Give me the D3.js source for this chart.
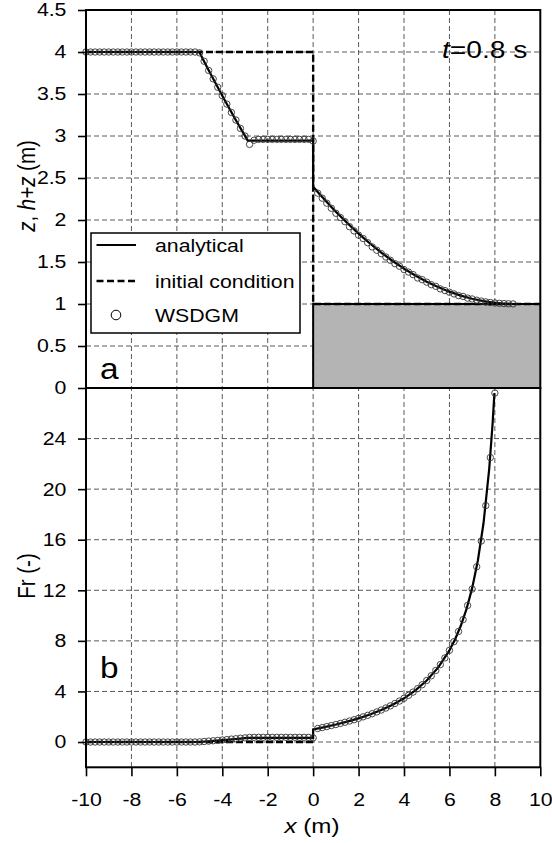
<!DOCTYPE html>
<html>
<head>
<meta charset="utf-8">
<script src="https://cdn.jsdelivr.net/npm/d3@7"></script>
<style>
  body { margin: 0; background: #fff; }
  text { font-family: "Liberation Sans", Arial, Helvetica, sans-serif; fill: #000; }
</style>
</head>
<body>
<svg id="chart" width="552" height="843"></svg>
<script>
// ---- Tick values ----
const xTicks = [-10, -8, -6, -4, -2, 0, 2, 4, 6, 8, 10];
const levelTicks = [0, 0.5, 1, 1.5, 2, 2.5, 3, 3.5, 4, 4.5];
const froudeTicks = [0, 4, 8, 12, 16, 20, 24];

// ---- Bed and initial condition (x, h+z) ----
const bedX = [0, 0, 10];
const bedZ = [0, 1, 1];
const initX = [-10, 0, 0, 10];
const initLevel = [4, 4, 1, 1];
const initFrX = [-10, 0];
const initFr = [0, 0];

// ---- Analytical solution at t = 0.8 s: free-surface level h+z ----
const anaX = [-10, -5.01, -4.8, -4.6, -4.4, -4.2, -4.0, -3.8, -3.6, -3.4, -3.2, -3.0, -2.88,
  0, 0, 0.25, 0.5, 0.75, 1, 1.5, 2, 2.5, 3, 3.5, 4, 4.5, 5, 5.5, 6, 6.5, 7, 7.5, 8, 8.5, 8.88];
const anaLevel = [4, 4, 3.888, 3.784, 3.681, 3.580, 3.480, 3.381, 3.284, 3.188, 3.094, 3.001, 2.946,
  2.944, 2.396, 2.318, 2.243, 2.170, 2.099, 1.964, 1.838, 1.720, 1.612, 1.512, 1.421, 1.340, 1.266,
  1.202, 1.147, 1.100, 1.063, 1.034, 1.014, 1.003, 1.0];

// ---- Analytical solution: Froude number ----
const anaFrX = [-10, -5.01, -4.8, -4.6, -4.4, -4.2, -4.0, -3.8, -3.6, -3.4, -3.2, -3.0, -2.88,
  0, 0, 0.5, 1, 1.5, 2, 2.5, 3, 3.5, 4, 4.5, 5, 5.5, 6, 6.25, 6.5, 6.75, 7, 7.25, 7.5, 7.75, 7.9, 7.98];
const anaFr = [0, 0, 0.029, 0.056, 0.085, 0.114, 0.144, 0.175, 0.207, 0.240, 0.274, 0.309, 0.330,
  0.330, 1.0, 1.179, 1.381, 1.610, 1.872, 2.176, 2.531, 2.952, 3.459, 4.082, 4.866, 5.882, 7.25,
  8.129, 9.193, 10.507, 12.17, 14.34, 17.30, 21.58, 25.18, 27.6];

// ---- WSDGM results (cell positions and values) ----
const cellX = [-10, -9.8, -9.6, -9.4, -9.2, -9, -8.8, -8.6, -8.4, -8.2, -8, -7.8, -7.6, -7.4, -7.2,
  -7, -6.8, -6.6, -6.4, -6.2, -6, -5.8, -5.6, -5.4, -5.2, -5, -4.8, -4.6, -4.4, -4.2, -4, -3.8, -3.6,
  -3.4, -3.2, -3, -2.8, -2.6, -2.4, -2.2, -2, -1.8, -1.6, -1.4, -1.2, -1, -0.8, -0.6, -0.4, -0.2, 0,
  0.2, 0.4, 0.6, 0.8, 1, 1.2, 1.4, 1.6, 1.8, 2, 2.2, 2.4, 2.6, 2.8, 3, 3.2, 3.4, 3.6, 3.8, 4, 4.2,
  4.4, 4.6, 4.8, 5, 5.2, 5.4, 5.6, 5.8, 6, 6.2, 6.4, 6.6, 6.8, 7, 7.2, 7.4, 7.6, 7.8, 8, 8.2, 8.4,
  8.6, 8.8];
const numLevel = [4, 4, 4, 4, 4, 4, 4, 4, 4, 4, 4, 4, 4, 4, 4, 4, 4, 4, 4, 4, 4, 4, 4, 4, 4,
  3.99, 3.89, 3.78, 3.68, 3.58, 3.48, 3.38, 3.28, 3.19, 3.09, 3.00, 2.90,
  2.95, 2.96, 2.96, 2.96, 2.96, 2.96, 2.96, 2.96, 2.96, 2.96, 2.96, 2.96, 2.96,
  2.94,
  2.32, 2.26, 2.20, 2.14, 2.08, 2.03, 1.98, 1.92, 1.87, 1.82, 1.78, 1.73, 1.68, 1.64, 1.60, 1.56,
  1.52, 1.48, 1.45, 1.41, 1.38, 1.35, 1.31, 1.29, 1.26, 1.23, 1.21, 1.18, 1.16, 1.14, 1.12, 1.10,
  1.09, 1.07, 1.06, 1.045, 1.035, 1.025, 1.018, 1.012, 1.008, 1.005, 1.003, 1.001];
const numFr = [0, 0, 0, 0, 0, 0, 0, 0, 0, 0, 0, 0, 0, 0, 0, 0, 0, 0, 0, 0, 0, 0, 0, 0, 0,
  0.01, 0.04, 0.07, 0.10, 0.13, 0.16, 0.19, 0.23, 0.26, 0.30, 0.33, 0.36,
  0.37, 0.37, 0.37, 0.37, 0.37, 0.37, 0.37, 0.37, 0.37, 0.37, 0.37, 0.37, 0.37,
  0.33,
  1.07, 1.14, 1.22, 1.30, 1.38, 1.47, 1.56, 1.66, 1.76, 1.87, 1.99, 2.11, 2.24, 2.38, 2.53, 2.69,
  2.86, 3.05, 3.24, 3.46, 3.69, 3.95, 4.22, 4.53, 4.87, 5.24, 5.66, 6.12, 6.65, 7.25, 7.94, 8.74,
  9.68, 10.8, 12.1, 13.86, 15.9, 18.7, 22.5, 27.6];

const legendLabels = ["analytical", "initial condition", "WSDGM"];

// ---- Layout ----
const svg = d3.select("#chart");
const SX = 1.15;              // horizontal glyph stretch
const L = 86, R = 540.3;
const topY0 = 10, midY = 388, botY1 = 767.3;

const x = d3.scaleLinear().domain([-10, 10]).range([L, R]);
const yTop = d3.scaleLinear().domain([0, 4.5]).range([midY, topY0]);
const yBot = d3.scaleLinear().domain([-2, 28]).range([botY1, midY]);

const zip = (a, b) => a.map((v, i) => [v, b[i]]);
const gridStyle = sel => sel.attr("stroke", "#5a5a5a").attr("stroke-width", 1)
  .attr("stroke-dasharray", "5,3").attr("fill", "none");

function addText(g, px, py, parts, size, anchor, rotate) {
  const t = g.append("text")
    .attr("transform", `translate(${px},${py}) scale(${SX},1)` + (rotate ? " rotate(-90)" : ""))
    .attr("font-size", size)
    .attr("text-anchor", anchor || "start");
  parts.forEach(([s, it]) => t.append("tspan").text(s).attr("font-style", it ? "italic" : "normal"));
  return t;
}

// ---- Grids ----
const grid = svg.append("g");
xTicks.filter(v => v > -10 && v < 10).forEach(v => {
  grid.append("line").attr("x1", x(v)).attr("x2", x(v)).attr("y1", topY0).attr("y2", botY1).call(gridStyle);
});
levelTicks.filter(v => v > 0 && v < 4.5).forEach(v => {
  grid.append("line").attr("x1", L).attr("x2", R).attr("y1", yTop(v)).attr("y2", yTop(v)).call(gridStyle);
});
froudeTicks.forEach(v => {
  grid.append("line").attr("x1", L).attr("x2", R).attr("y1", yBot(v)).attr("y2", yBot(v)).call(gridStyle);
});

// ---- Top panel: bed step ----
const panelA = svg.append("g");
panelA.append("rect")
  .attr("x", x(0)).attr("y", yTop(1))
  .attr("width", x(10) - x(0)).attr("height", yTop(0) - yTop(1))
  .attr("fill", "#b4b4b4");

const lineTop = d3.line().x(d => x(d[0])).y(d => yTop(d[1]));
const lineBot = d3.line().x(d => x(d[0])).y(d => yBot(d[1]));

panelA.append("path").attr("d", lineTop(zip(bedX, bedZ)))
  .attr("fill", "none").attr("stroke", "#000").attr("stroke-width", 2);

// initial condition
panelA.append("path").attr("d", lineTop(zip(initX, initLevel)))
  .attr("fill", "none").attr("stroke", "#000").attr("stroke-width", 2.4).attr("stroke-dasharray", "7,3");

// analytical
panelA.append("path").attr("d", lineTop(zip(anaX, anaLevel)))
  .attr("fill", "none").attr("stroke", "#000").attr("stroke-width", 2.2);

// numerical
panelA.selectAll("circle.num").data(zip(cellX, numLevel)).enter().append("circle")
  .attr("cx", d => x(d[0])).attr("cy", d => yTop(d[1])).attr("r", 3.2)
  .attr("fill", "none").attr("stroke", "#333").attr("stroke-width", 0.9);

// ---- Bottom panel ----
const panelB = svg.append("g");
panelB.append("path").attr("d", lineBot(zip(initFrX, initFr)))
  .attr("fill", "none").attr("stroke", "#000").attr("stroke-width", 2.4).attr("stroke-dasharray", "7,3");
panelB.append("path").attr("d", lineBot(zip(anaFrX, anaFr)))
  .attr("fill", "none").attr("stroke", "#000").attr("stroke-width", 2.2);
panelB.selectAll("circle.num").data(zip(cellX.slice(0, numFr.length), numFr)).enter().append("circle")
  .attr("cx", d => x(d[0])).attr("cy", d => yBot(d[1])).attr("r", 3.2)
  .attr("fill", "none").attr("stroke", "#333").attr("stroke-width", 0.9);

// ---- Frames ----
const frame = svg.append("g").attr("fill", "none").attr("stroke", "#000").attr("stroke-width", 2);
frame.append("rect").attr("x", L).attr("y", topY0).attr("width", R - L).attr("height", midY - topY0);
frame.append("rect").attr("x", L).attr("y", midY).attr("width", R - L).attr("height", botY1 - midY);

// ---- Axes ----
function styleAxis(g) {
  g.select(".domain").remove();
  g.selectAll(".tick line").attr("stroke", "#000").attr("stroke-width", 1.6);
  g.selectAll(".tick text")
    .attr("font-family", "Liberation Sans, Arial, sans-serif")
    .attr("font-size", 18.5).attr("fill", "#000");
}

const axTop = svg.append("g").attr("transform", `translate(${L},0)`)
  .call(d3.axisLeft(yTop).tickValues(levelTicks).tickSize(8).tickPadding(9).tickFormat(String))
  .call(styleAxis);
axTop.selectAll(".tick text").attr("transform", `scale(${SX},1)`);

const axBot = svg.append("g").attr("transform", `translate(${L},0)`)
  .call(d3.axisLeft(yBot).tickValues(froudeTicks).tickSize(8).tickPadding(9).tickFormat(String))
  .call(styleAxis);
axBot.selectAll(".tick text").attr("transform", `scale(${SX},1)`);

const axX = svg.append("g").attr("transform", `translate(0,${botY1})`)
  .call(d3.axisBottom(x).tickValues(xTicks).tickSize(9).tickPadding(17).tickFormat(String))
  .call(styleAxis);
axX.selectAll(".tick text").attr("transform", `scale(${SX},1)`);

// ---- Legend ----
const leg = svg.append("g");
leg.append("rect").attr("x", 91).attr("y", 233).attr("width", 209).attr("height", 100)
  .attr("fill", "#fff").attr("stroke", "#000").attr("stroke-width", 1.5);
const rowY = [245, 281, 315];
leg.append("line").attr("x1", 96.5).attr("x2", 136).attr("y1", rowY[0]).attr("y2", rowY[0])
  .attr("stroke", "#000").attr("stroke-width", 2.2);
leg.append("line").attr("x1", 96.5).attr("x2", 136).attr("y1", rowY[1]).attr("y2", rowY[1])
  .attr("stroke", "#000").attr("stroke-width", 2.4).attr("stroke-dasharray", "7,3.5");
leg.append("circle").attr("cx", 116).attr("cy", rowY[2]).attr("r", 4.8)
  .attr("fill", "none").attr("stroke", "#000").attr("stroke-width", 1);
legendLabels.forEach((s, i) => addText(leg, 155, rowY[i] + 7, [[s, false]], 18.5, "start"));

// ---- Labels ----
addText(svg, 442, 58, [["t", true], ["=0.8 s", false]], 24.5, "start");
addText(svg, 100, 379, [["a", false]], 29, "start");
addText(svg, 100, 678, [["b", false]], 29, "start");
addText(svg, 35, 186, [["z", true], [", ", false], ["h+z", true], [" (m)", false]], 20.5, "middle", true);
addText(svg, 35, 576, [["Fr (-)", false]], 20.5, "middle", true);
addText(svg, 312, 833, [["x", true], [" (m)", false]], 21, "middle");
</script>
</body>
</html>
